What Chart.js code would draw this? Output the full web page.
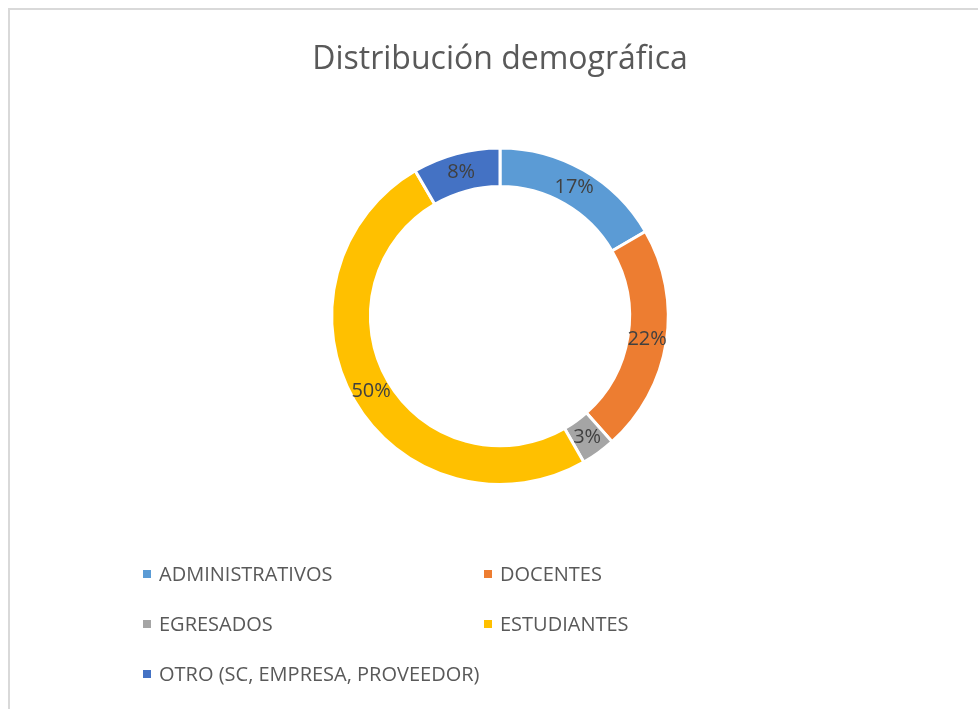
<!DOCTYPE html>
<html>
<head>
<meta charset="utf-8">
<script src="https://cdn.jsdelivr.net/npm/chart.js@4/dist/chart.umd.min.js"></script>
<style>
  html, body { margin: 0; padding: 0; background: #fff; }
  #wrap { position: relative; width: 978px; height: 709px; overflow: hidden; }
  #frame { position: absolute; left: 8px; top: 8px; width: 1000px; height: 1000px;
           border-left: 2px solid #d9d9d9; border-top: 2px solid #d9d9d9; }
  #chart0 { position: absolute; left: 0; top: 0; }
  .lg { position: absolute; font-family: "Open Sans", sans-serif; font-size: 20px; color: #595959;
        line-height: 24px; white-space: nowrap; }
  .lg i { display: inline-block; width: 8px; height: 8px; margin-right: 8px; vertical-align: 3px; }
</style>
</head>
<body>
<div id="wrap">
  <div id="frame"></div>
  <canvas id="chart0" width="978" height="709"></canvas>
  <div id="legend"></div>
</div>
<script>
const categories = ['ADMINISTRATIVOS', 'DOCENTES', 'EGRESADOS', 'ESTUDIANTES', 'OTRO (SC, EMPRESA, PROVEEDOR)'];
const dataValues = [16.6, 21.8, 3.3, 49.9, 8.4];
const pctLabels = ['17%', '22%', '3%', '50%', '8%'];
const colors = ['#5B9BD5', '#ED7D31', '#A5A5A5', '#FFC000', '#4472C4'];

// etiquetas de porcentaje en el centro del anillo
const ringLabels = {
    id: 'ringLabels',
    afterDatasetsDraw(chart) {
        const c = chart.ctx;
        const meta = chart.getDatasetMeta(0);
        c.save();
        c.font = '20px "Open Sans", sans-serif';
        c.fillStyle = '#404040';
        c.textAlign = 'center';
        c.textBaseline = 'middle';
        meta.data.forEach((arc, i) => {
            const p = arc.tooltipPosition();
            c.fillText(pctLabels[i], p.x, p.y);
        });
        c.restore();
    }
};

new Chart(document.getElementById('chart0').getContext('2d'), {
    type: 'doughnut',
    data: {
        labels: categories,
        datasets: [{
            data: dataValues,
            backgroundColor: colors,
            borderColor: '#ffffff',
            borderWidth: 3
        }]
    },
    options: {
        responsive: false,
        animation: false,
        cutout: '77%',
        layout: { padding: { top: 0, left: 22, right: 0, bottom: 223 } },
        plugins: {
            legend: { display: false },
            tooltip: { enabled: false },
            title: {
                display: true,
                text: 'Distribución demográfica',
                color: '#595959',
                font: { family: '"Open Sans", sans-serif', size: 32, weight: 'normal', lineHeight: 1.2 },
                padding: { top: 41, bottom: 67 }
            }
        }
    },
    plugins: [ringLabels]
});

// leyenda en dos columnas
const legendX = [143, 484];
const lg = document.getElementById('legend');
categories.forEach((name, i) => {
    const d = document.createElement('div');
    d.className = 'lg';
    d.style.left = legendX[i % 2] + 'px';
    d.style.top = (562 + 50 * Math.floor(i / 2)) + 'px';
    d.innerHTML = '<i style="background:' + colors[i] + '"></i>' + name;
    lg.appendChild(d);
});
</script>
</body>
</html>
